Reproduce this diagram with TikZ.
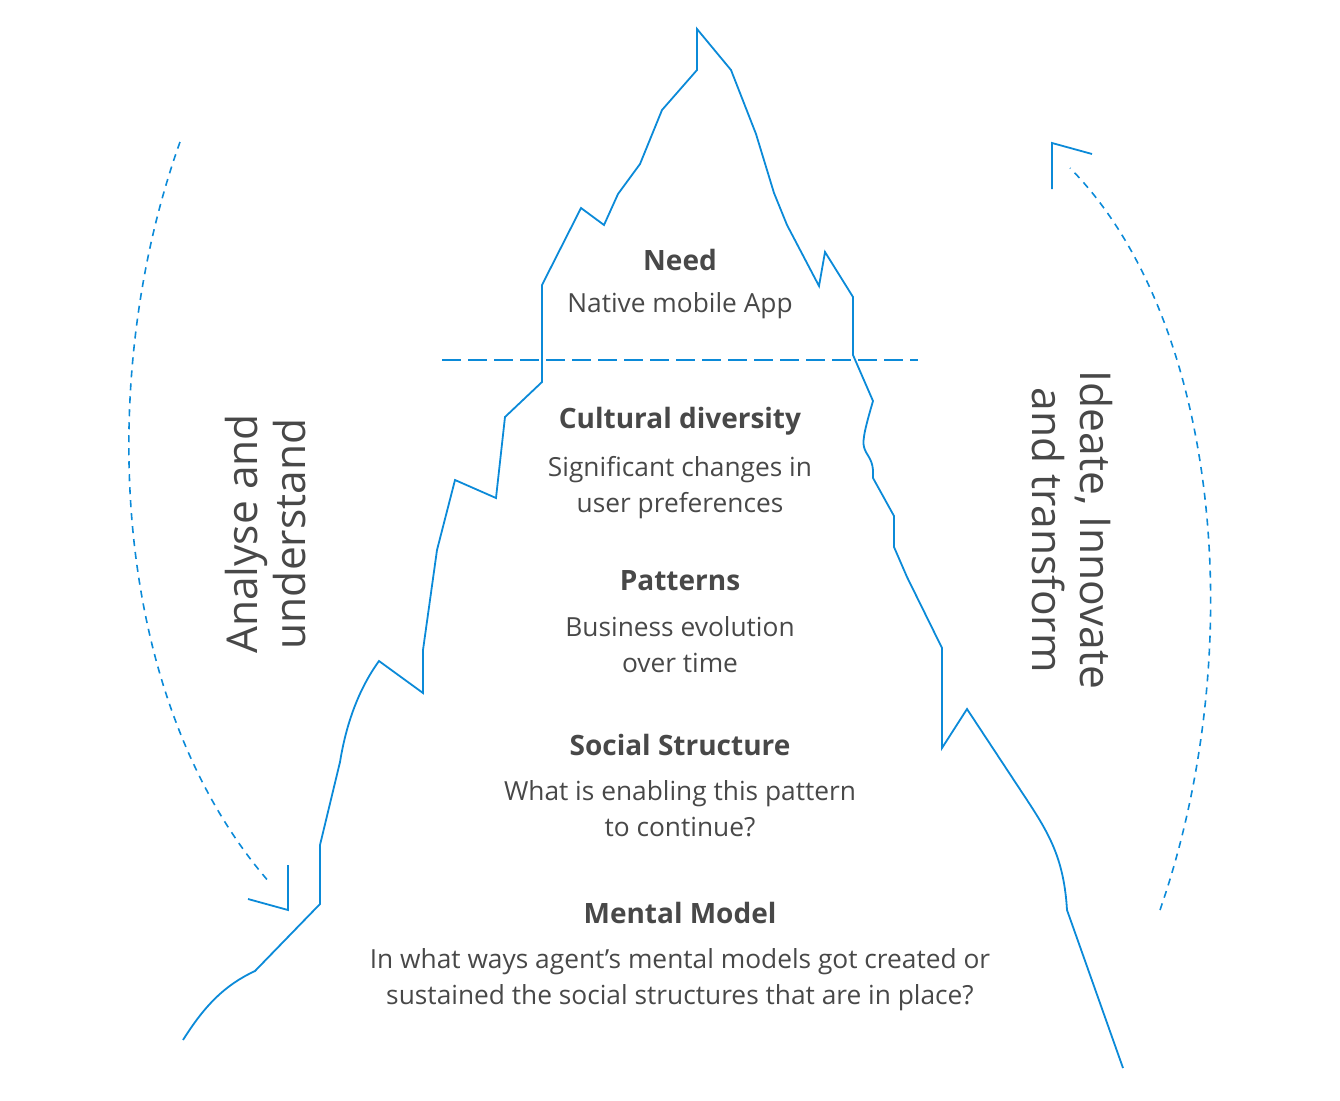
\documentclass[tikz,border=0pt]{standalone}
\usepackage{fontspec}
\setmainfont{Open Sans}
\definecolor{berg}{HTML}{0B8AD8}
\definecolor{ink}{HTML}{484848}

\begin{document}
\begin{tikzpicture}[x=1pt,y=-1pt]
\tikzstyle{every node}=[text=ink, inner sep=0pt, align=center]
\tikzstyle{head}=[font=\fontsize{28}{36}\selectfont\bfseries]
\tikzstyle{body}=[font=\fontsize{26.3}{36}\selectfont]
\tikzstyle{side}=[font=\fontsize{42.5}{48}\selectfont]
\tikzstyle{berg}=[draw=berg, line width=1.8pt, line join=miter]
\tikzstyle{loop}=[draw=berg, line width=1.6pt, dash pattern=on 7pt off 6pt]
\useasboundingbox (0,0) rectangle (1340,1100);

\draw[berg] (183,1040) .. controls (205,1005) and (225,985) .. (255,971) -- (320,904) -- (320,845)
  -- (340,762) .. controls (346,725) and (358,690) .. (379,661) -- (423,693) -- (423,650) -- (437,550)
  -- (455,480) -- (496,498) -- (505,417) -- (542,382) -- (542,285) -- (581,208) -- (604,225) -- (618,194)
  -- (640,164) -- (662,110) -- (697,70) -- (697,29) -- (731,70) -- (756,134) -- (774,193) -- (787,225)
  -- (819,286) -- (825,252) -- (853,297) -- (853,355) -- (873,401) .. controls (866,425) and (862,440) .. (864,447)
  .. controls (866,455) and (872,458) .. (873,470) -- (873,478) -- (894,516) -- (894,547) -- (907,577)
  -- (942,648) -- (942,748) -- (967,709) -- (1027,800) .. controls (1050,835) and (1064,860) .. (1067,910)
  -- (1123,1068);

\draw (442,360) coordinate (w1) (918,360) coordinate (w2);
\draw[draw=berg, line width=2pt, dash pattern=on 19pt off 7pt] (w1) -- (w2);

\draw (680,260) node (need) [head] {Need};
\draw (680,306) node (needtxt) [body] {Native mobile App};
\draw (680,421) node (culture) [head] {Cultural diversity};
\draw (680,488) node (culturetxt) [body] {Significant changes in\\user preferences};
\draw (680,581) node (pattern) [head] {Patterns};
\draw (680,645) node (patterntxt) [body] {Business evolution\\over time};
\draw (680,745) node (social) [head] {Social Structure};
\draw (680,809) node (socialtxt) [body] {What is enabling this pattern\\to continue?};
\draw (680,913) node (mental) [head] {Mental Model};
\draw (680,980) node (mentaltxt) [body] {In what ways agent’s mental models got created or\\sustained the social structures that are in place?};

\draw (266,534) node (analyse) [side, rotate=90] {Analyse and\\understand};
\draw (1072,530) node (ideate) [side, rotate=-90] {Ideate, Innovate\\and transform};

\draw (180,142) coordinate (a1) (270,883) coordinate (a2);
\draw (288,865) coordinate (a3) (288,910) coordinate (a4) (248,899) coordinate (a5);
\draw[loop] (a1) .. controls (95,380) and (110,700) .. (a2);
\draw[draw=berg, line width=1.8pt] (a3) -- (a4) -- (a5);

\draw (1160,910) coordinate (b1) (1070,168) coordinate (b2);
\draw (1052,189) coordinate (b3) (1052,143) coordinate (b4) (1092,154) coordinate (b5);
\draw[loop] (b1) .. controls (1250,650) and (1220,320) .. (b2);
\draw[draw=berg, line width=1.8pt] (b3) -- (b4) -- (b5);
\end{tikzpicture}
\end{document}
